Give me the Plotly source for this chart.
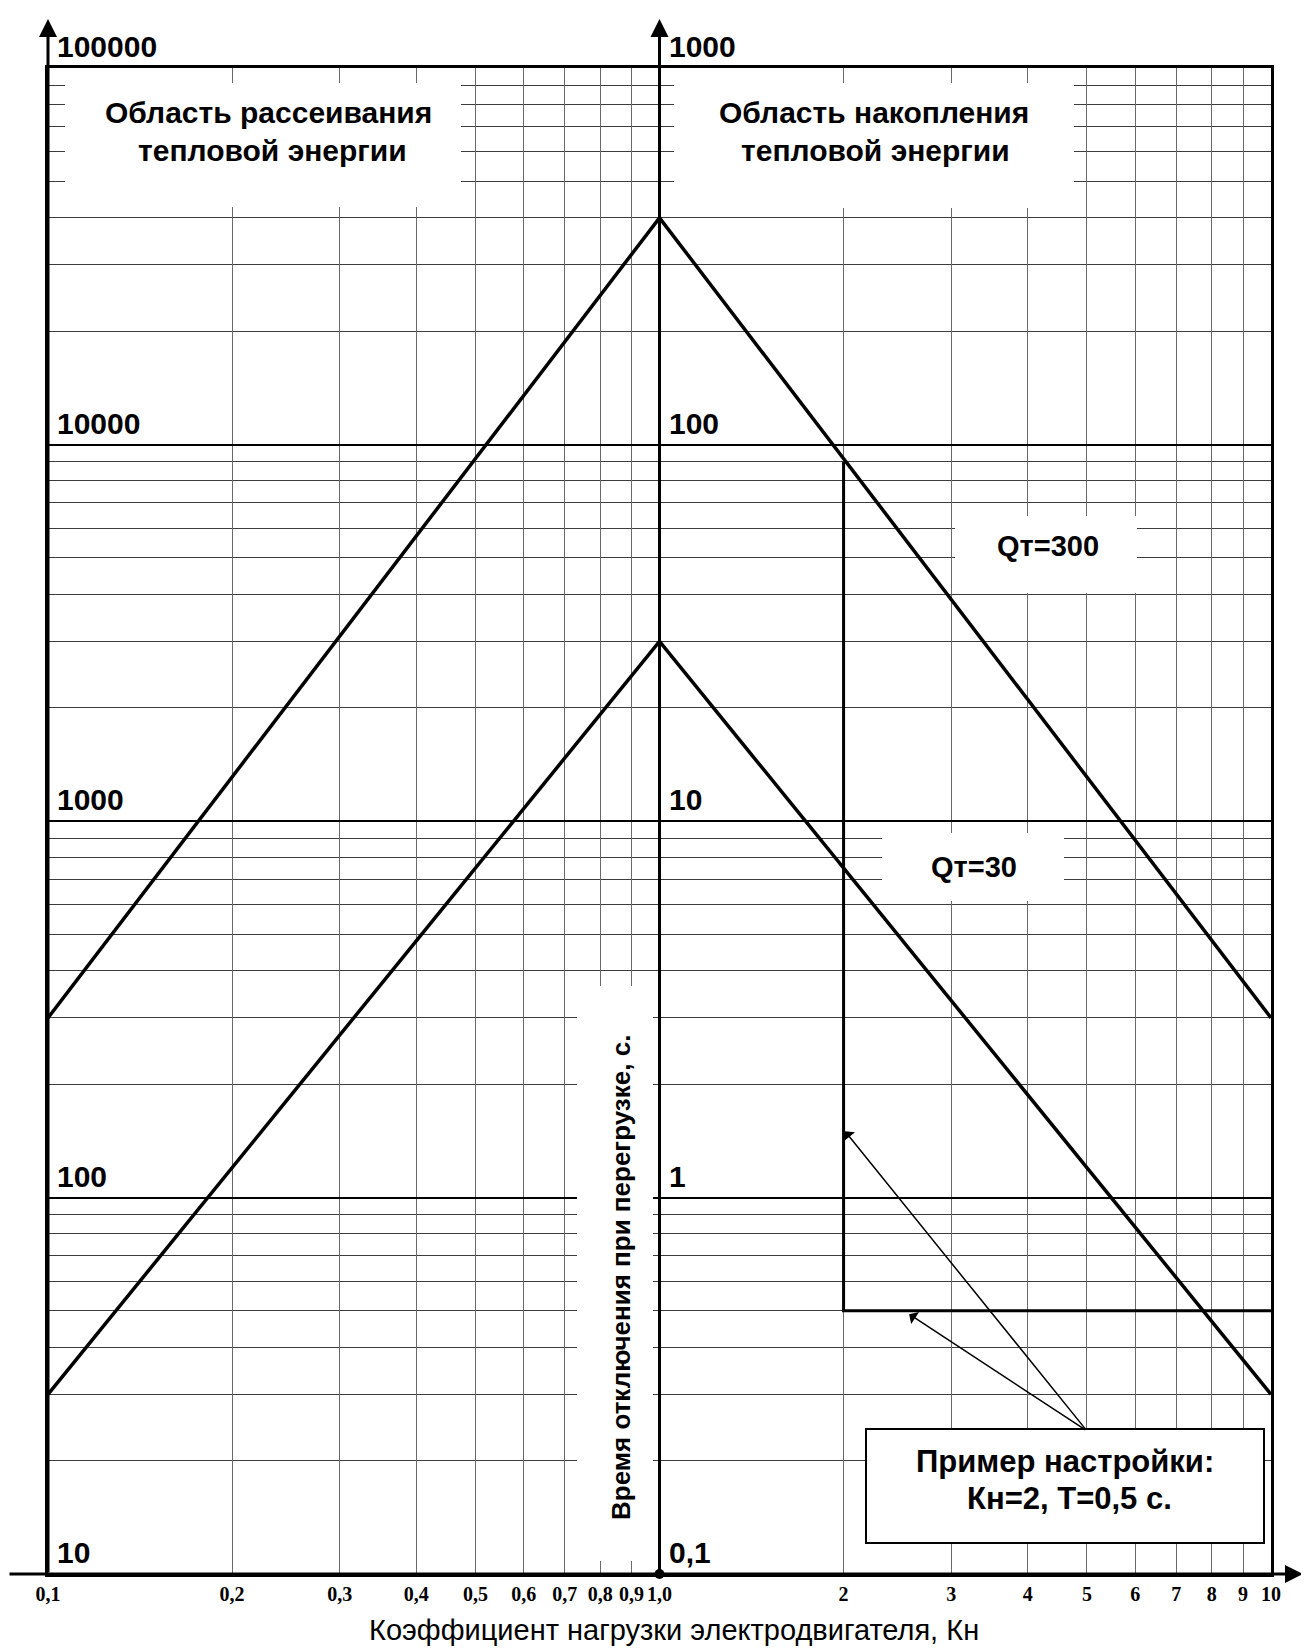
import numpy as np
import plotly.graph_objects as go

# x axis: load factor Kн (log), tick labels as printed
x_ticks = [0.1, 0.2, 0.3, 0.4, 0.5, 0.6, 0.7, 0.8, 0.9, 1, 2, 3, 4, 5, 6, 7, 8, 9, 10]
x_ticktext = ["0,1", "0,2", "0,3", "0,4", "0,5", "0,6", "0,7", "0,8", "0,9", "1,0",
              "2", "3", "4", "5", "6", "7", "8", "9", "10"]

# y decades: right scale (Kн >= 1) and left scale (Kн <= 1)
right_decades = [0.1, 1, 10, 100, 1000]
right_labels = ["0,1", "1", "10", "100", "1000"]
left_decades = [10, 100, 1000, 10000, 100000]
left_labels = ["10", "100", "1000", "10000", "100000"]

# Qт=300 curve
qt300_left_x = [0.1, 1]
qt300_left_t = [300, 40000]      # left scale
qt300_right_x = [1, 10]
qt300_right_t = [400, 3]         # right scale

# Qт=30 curve
qt30_left_x = [0.1, 1]
qt30_left_t = [30, 3000]
qt30_right_x = [1, 10]
qt30_right_t = [30, 0.3]

# example setting Кн=2, T=0,5 с
setting_x = [2, 2, 10]
setting_t = [90, 0.5, 0.5]

# page has an 8px body margin -> figure is shifted, margins compensate
W, H = 1301, 1643
ML, MR, MT, MB = 40, 38, 60, 77
PW, PH = W - ML - MR, H - MT - MB
L0, B0 = 48, 1573   # plot area left / bottom in page pixels


def px(x):
    return (x - L0) / PW


def py(y):
    return (B0 - y) / PH


FONT = "Liberation Sans, Arial, sans-serif"
minor_y = [k * 10.0 ** d for d in range(-1, 3) for k in range(2, 10)]

fig = go.Figure()
line = dict(color="black", width=3.5)
fig.add_trace(go.Scatter(x=qt300_left_x, y=qt300_left_t, mode="lines", line=line, yaxis="y2"))
fig.add_trace(go.Scatter(x=qt30_left_x, y=qt30_left_t, mode="lines", line=line, yaxis="y2"))
fig.add_trace(go.Scatter(x=qt300_right_x, y=qt300_right_t, mode="lines", line=line))
fig.add_trace(go.Scatter(x=qt30_right_x, y=qt30_right_t, mode="lines", line=line))
fig.add_trace(go.Scatter(x=setting_x, y=setting_t, mode="lines", line=dict(color="black", width=3)))
fig.add_trace(go.Scatter(x=[1], y=[0.1], mode="markers", marker=dict(color="black", size=10),
                         cliponaxis=False))

fig.update_layout(
    width=W, height=H, autosize=False,
    margin=dict(l=ML, r=MR, t=MT, b=MB),
    paper_bgcolor="white", plot_bgcolor="white",
    showlegend=False,
    xaxis=dict(type="log", range=[-1, 1], tickvals=x_ticks,
               ticktext=["<b>%s</b>" % t for t in x_ticktext], tickangle=0,
               tickfont=dict(family="Liberation Serif, Times New Roman, serif", size=20, color="black"),
               ticks="", showgrid=True, gridcolor="#6a6a6a", gridwidth=1.3, zeroline=False,
               showline=True, linecolor="black", linewidth=2.5, mirror=True),
    yaxis=dict(type="log", range=[-1, 3], tickvals=right_decades, showticklabels=False,
               showgrid=True, gridcolor="black", gridwidth=2,
               minor=dict(tickvals=minor_y, showgrid=True, gridcolor="#3c3c3c", gridwidth=1.3),
               zeroline=False, showline=True, linecolor="black", linewidth=2.5, mirror=True),
    yaxis2=dict(type="log", range=[1, 5], overlaying="y", showgrid=False,
                showticklabels=False, zeroline=False, showline=False),
)

# white label boxes covering the grid
boxes = [
    (65, 461, 82, 206, 0),
    (674, 1074, 82, 207, 0),
    (955, 1137, 515, 592, 0),
    (882, 1064, 832, 900, 0),
    (577, 653, 985, 1560, 0),
    (866, 1264, 1428, 1542, 2),
]
for x0, x1, y0, y1, lw in boxes:
    fig.add_shape(type="rect", xref="paper", yref="paper",
                  x0=px(x0), x1=px(x1), y0=py(y1), y1=py(y0),
                  fillcolor="white", line=dict(color="black", width=lw if lw else 0),
                  layer="above")

texts = [
    ("Область рассеивания", 268, 112, 30),
    ("тепловой энергии", 272, 150, 30),
    ("Область накопления", 874, 112, 30),
    ("тепловой энергии", 875, 150, 30),
    ("Qт=300", 1048, 545, 29),
    ("Qт=30", 974, 866, 29),
    ("Пример настройки:", 1065, 1460, 31),
    ("Кн=2, Т=0,5 с.", 1069, 1497, 31),
]
for t, x, y, s in texts:
    fig.add_annotation(text="<b>%s</b>" % t, xref="paper", yref="paper", x=px(x), y=py(y),
                       xanchor="center", yanchor="middle", showarrow=False,
                       font=dict(family=FONT, size=s, color="black"))

fig.add_annotation(text="<b>Время отключения при перегрузке, с.</b>", xref="paper", yref="paper",
                   x=px(621), y=py(1277), textangle=-90, showarrow=False,
                   xanchor="center", yanchor="middle",
                   font=dict(family=FONT, size=26, color="black"))
fig.add_annotation(text="Коэффициент нагрузки электродвигателя, Кн", xref="paper", yref="paper",
                   x=px(674), y=py(1629), showarrow=False, xanchor="center", yanchor="middle",
                   font=dict(family=FONT, size=29, color="black"))

# decade labels on both vertical axes
bold = dict(family=FONT, size=30, color="black")
for v, lab in zip(left_decades, left_labels):
    fig.add_annotation(text="<b>%s</b>" % lab, xref="paper", yref="y2", x=px(55), y=np.log10(v),
                       xanchor="left", yanchor="bottom", yshift=3, showarrow=False, font=bold)
for v, lab in zip(right_decades, right_labels):
    fig.add_annotation(text="<b>%s</b>" % lab, xref="paper", yref="y", x=px(667), y=np.log10(v),
                       xanchor="left", yanchor="bottom", yshift=3, showarrow=False, font=bold)

# axis arrows
for xv in [0.1, 1]:
    fig.add_annotation(text="", xref="x", yref="paper", x=np.log10(xv), y=py(18),
                       ax=0, ay=1555, showarrow=True, arrowhead=2, arrowsize=1.2,
                       arrowwidth=3, arrowcolor="black")
fig.add_annotation(text="", xref="paper", yref="y", x=px(1303), y=np.log10(0.1),
                   ax=-1295, ay=0, showarrow=True, arrowhead=2, arrowsize=1.2,
                   arrowwidth=3, arrowcolor="black")

# pointers from the example box
for hx, hy in [(2.01, 1.5), (2.56, 0.49)]:
    fig.add_annotation(text="", xref="x", yref="y", x=np.log10(hx), y=np.log10(hy),
                       axref="x", ayref="y", ax=np.log10(5), ay=np.log10(0.24),
                       showarrow=True, arrowhead=1, arrowsize=1.6, arrowwidth=1.5,
                       arrowcolor="black")

fig.write_html("out.html")
